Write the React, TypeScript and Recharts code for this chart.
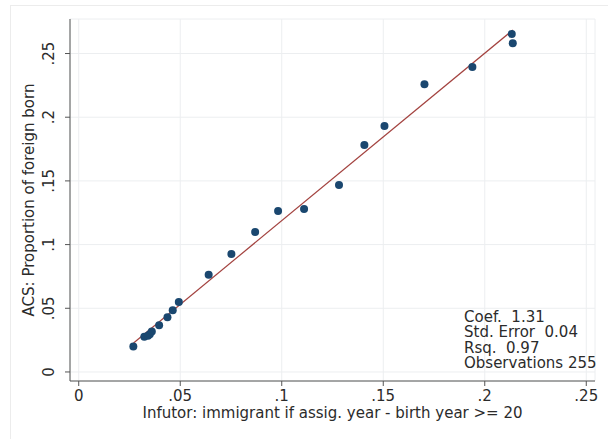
import { ScatterChart, Scatter, XAxis, YAxis, CartesianGrid, Label } from "recharts";

const points = [
  { x: 0.0269, y: 0.0199 },
  { x: 0.0323, y: 0.0277 },
  { x: 0.0341, y: 0.0285 },
  { x: 0.035, y: 0.0296 },
  { x: 0.036, y: 0.0317 },
  { x: 0.0396, y: 0.0366 },
  { x: 0.0437, y: 0.0429 },
  { x: 0.0463, y: 0.0484 },
  { x: 0.0493, y: 0.0549 },
  { x: 0.064, y: 0.0764 },
  { x: 0.0752, y: 0.0926 },
  { x: 0.0869, y: 0.1099 },
  { x: 0.0982, y: 0.1264 },
  { x: 0.111, y: 0.128 },
  { x: 0.1282, y: 0.1468 },
  { x: 0.1407, y: 0.1782 },
  { x: 0.1506, y: 0.1931 },
  { x: 0.1703, y: 0.2258 },
  { x: 0.1939, y: 0.2394 },
  { x: 0.2133, y: 0.2653 },
  { x: 0.2138, y: 0.258 },
];

const fitLine = [
  { x: 0.027, y: 0.0228 },
  { x: 0.2138, y: 0.2684 },
];

const xTicks = [0, 0.05, 0.1, 0.15, 0.2, 0.25];
const yTicks = [0, 0.05, 0.1, 0.15, 0.2, 0.25];
const statLines = ["Coef.  1.31", "Std. Error  0.04", "Rsq.  0.97", "Observations 255"];

const font = "'DejaVu Sans', sans-serif";
const ink = "#2b2b2b";

const fmt = (v: number) => (v === 0 ? "0" : String(v).replace(/^0/, ""));

const YTick = ({ x, y, payload }: any) => (
  <text
    x={x - 9}
    y={y}
    transform={`rotate(-90, ${x - 9}, ${y})`}
    textAnchor="middle"
    fontSize={15}
    fontFamily={font}
    fill={ink}
  >
    {fmt(payload.value)}
  </text>
);

const XTick = ({ x, y, payload }: any) => (
  <text x={x} y={y + 13} textAnchor="middle" fontSize={15} fontFamily={font} fill={ink}>
    {fmt(payload.value)}
  </text>
);

export default function App() {
  return (
    <div style={{ position: "absolute", left: 0, top: 0, width: 608, height: 439, background: "#fff" }}>
      <div
        style={{
          position: "absolute",
          left: 10,
          top: 5,
          width: 600,
          height: 440,
          border: "1px solid #ececec",
        }}
      />
      <ScatterChart
        width={608}
        height={439}
        margin={{ top: 19, right: 13, bottom: 0, left: 0 }}
        style={{ position: "absolute", left: 0, top: 0 }}
      >
        <CartesianGrid stroke="#eceef0" strokeWidth={1} />
        <XAxis
          type="number"
          dataKey="x"
          domain={[-0.0043, 0.2543]}
          ticks={xTicks}
          allowDataOverflow
          height={58}
          stroke="#555"
          tickSize={5}
          tick={<XTick />}
        >
          <Label
            value="Infutor: immigrant if assig. year - birth year >= 20"
            position="insideBottom"
            offset={21}
            style={{ fontSize: 15, fontFamily: font, fill: ink }}
          />
        </XAxis>
        <YAxis
          type="number"
          dataKey="y"
          domain={[-0.0071, 0.2771]}
          ticks={yTicks}
          allowDataOverflow
          width={70}
          stroke="#555"
          tickSize={5}
          tick={<YTick />}
        >
          <Label
            value="ACS: Proportion of foreign born"
            angle={-90}
            position="insideLeft"
            offset={29}
            style={{ fontSize: 15, fontFamily: font, fill: ink, textAnchor: "middle" }}
          />
        </YAxis>
        <Scatter
          data={fitLine}
          line={{ stroke: "#a3423f", strokeWidth: 1.2 }}
          shape={() => null}
          isAnimationActive={false}
        />
        <Scatter
          data={points}
          fill="#1a476f"
          isAnimationActive={false}
          shape={(p: any) => <circle cx={p.cx} cy={p.cy} r={4} fill="#1a476f" />}
        />
      </ScatterChart>
      <div
        style={{
          position: "absolute",
          left: 464,
          top: 310,
          fontFamily: font,
          fontSize: 15,
          lineHeight: "15.3px",
          color: ink,
          whiteSpace: "pre",
        }}
      >
        {statLines.map((s) => (
          <div key={s}>{s}</div>
        ))}
      </div>
    </div>
  );
}
